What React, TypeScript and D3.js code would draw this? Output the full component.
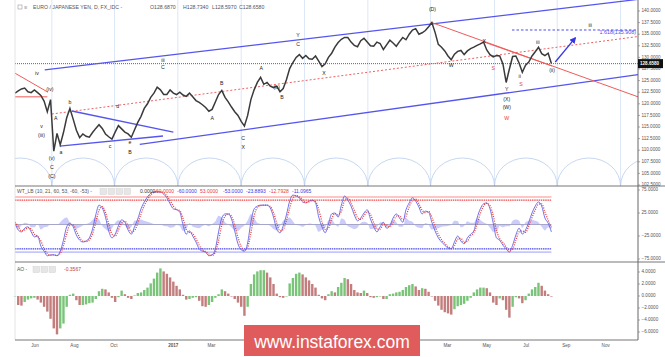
import React from "react";
import * as d3 from "d3";

const START = new Date(2016, 4, 1);
const STEP_DAYS = 5;

const closes = [
  122.3,122.8,123.2,123.4,122.6,122.4,123.0,122.4,121.8,120.6,
  118.3,120.9,109.8,113.6,111.2,113.8,117.0,119.0,116.7,114.3,
  112.7,113.5,113.0,112.8,113.8,114.7,115.5,114.7,113.5,112.9,
  112.4,113.9,115.3,114.6,113.9,113.5,112.8,114.4,116.0,117.3,
  119.0,120.0,121.4,122.3,123.6,123.0,122.0,122.0,123.0,122.3,
  122.0,122.5,121.9,121.6,122.3,121.5,120.7,120.3,119.8,119.2,
  118.4,118.8,120.4,122.0,122.9,121.4,120.4,119.3,118.3,117.5,
  116.2,115.2,117.5,120.9,123.0,124.6,125.7,124.2,124.6,123.8,
  123.5,123.8,122.6,123.3,125.2,127.6,128.9,130.0,130.6,129.8,
  130.4,129.7,129.6,130.3,129.2,128.0,128.6,130.0,130.9,132.2,
  133.2,133.9,134.3,134.3,133.3,132.6,132.3,133.6,134.1,133.3,
  132.5,132.4,133.3,133.0,131.7,132.7,133.7,133.1,132.4,133.4,
  134.3,133.8,135.0,135.9,136.2,135.0,135.3,135.8,136.6,137.5,
  135.4,132.8,132.2,131.4,130.3,129.5,130.7,131.3,131.5,130.6,
  131.4,131.9,132.2,132.6,132.9,133.3,131.6,130.6,130.1,130.4,
  130.3,128.6,124.6,127.5,130.2,130.3,128.8,126.8,128.3,129.0,
  130.3,131.2,132.2,130.8,130.4,130.9,128.7
];

const wt1 = [
  3,-12,-16,-8,-5,-16,-27,-25,-47,-58,
  -68,-66,-66,-68,-58,-34,-5,3,-5,-23,
  -34,-38,-36,-29,-10,21,42,36,16,-14,
  -29,-21,-3,10,5,-12,-21,-5,12,34,
  49,60,68,71,71,71,66,58,45,34,
  32,27,-1,-21,-14,-25,-38,-53,-58,-60,
  -68,-66,-53,-16,14,23,23,12,-14,-42,
  -55,-58,-40,5,34,40,42,42,42,36,
  16,-10,-18,-3,21,51,64,62,58,49,
  47,51,53,47,16,-5,-18,1,23,25,
  16,42,62,53,40,21,8,14,25,32,
  12,-5,-16,-5,5,-8,-3,14,23,14,
  5,32,47,58,51,38,23,29,27,5,
  -14,-29,-38,-45,-51,-53,-38,-25,-36,-42,
  -29,-21,-14,14,34,45,47,34,3,-29,
  -34,-45,-53,-60,-45,-23,-8,-21,-12,5,
  25,40,49,40,14,3,-16
];

const wt2 = [
  5,-4,-14,-12,-7,-10,-21,-26,-36,-52,
  -63,-67,-66,-67,-63,-46,-20,-1,-1,-14,
  -28,-36,-37,-33,-20,5,31,39,26,1,
  -21,-25,-12,3,7,-3,-16,-13,3,23,
  41,54,64,70,71,71,69,62,52,40,
  33,30,13,-11,-17,-20,-31,-45,-55,-59,
  -64,-67,-60,-35,-1,18,23,18,-1,-28,
  -48,-56,-49,-18,19,37,41,42,42,39,
  26,3,-14,-11,9,36,57,63,60,54,
  48,49,52,50,32,6,-11,-8,12,24,
  21,29,52,57,47,31,15,11,19,28,
  22,4,-10,-10,0,-1,-5,5,18,19,
  10,18,39,52,55,45,31,26,28,16,
  -4,-21,-33,-41,-48,-52,-46,-32,-30,-39,
  -36,-25,-18,0,24,40,46,41,19,-13,
  -31,-39,-49,-56,-53,-34,-16,-14,-17,-3,
  15,32,44,45,27,9,-6
];

const ao = [
  0,-1.5,-1.6,-1.0,-0.6,-0.4,-0.3,-0.6,-1.1,-1.8,
  -2.6,-3.8,-5.4,-6.4,-5.4,-4.6,-1.8,0.2,0.4,-0.7,
  -1.5,-1.5,-1.4,-1.2,-1.1,-0.5,0.8,1.2,1.1,0.6,
  -0.3,-1.0,-0.2,0.9,0.3,-0.3,-0.5,0.1,0.5,0.6,
  1.0,1.4,2.1,2.9,3.9,4.6,4.1,3.7,3.1,2.4,
  1.7,1.1,0.2,-0.6,-0.5,-0.3,-0.2,-0.8,-1.7,-1.8,
  -1.5,-1.0,-0.3,0.3,1.1,0.8,0.4,0.0,-0.5,-1.1,
  -1.8,-3.3,-1.8,2.0,3.6,4.1,4.3,4.3,3.9,3.1,
  2.0,0.4,-0.2,-0.3,0.0,2.1,3.0,3.7,3.9,3.6,
  3.1,2.6,2.0,1.4,0.2,-0.4,-0.7,0.3,0.8,0.6,
  1.5,2.2,3.0,2.8,2.0,1.0,0.6,0.5,0.9,0.5,
  -0.2,-0.3,-0.2,0.0,-0.5,-0.5,0.3,0.4,0.6,0.7,
  1.0,1.5,1.8,2.0,1.6,1.0,1.3,1.2,0.7,0.0,
  -0.8,-1.6,-2.3,-2.7,-2.9,-3.1,-2.2,-1.7,-1.5,-1.3,
  -0.8,-0.3,0.6,1.1,1.4,1.4,1.3,0.6,-1.1,-1.5,
  -0.4,-0.7,-2.3,-3.6,-1.8,-0.2,-0.4,-1.2,-0.7,0.4,
  1.1,1.5,2.2,1.7,0.9,0.3,-0.1
];

const priceTicks = [140, 137.5, 135, 132.5, 130, 127.5, 125, 122.5, 120, 117.5, 115, 112.5, 110, 107.5, 105, 102.5];
const wtTicks = [75, 25, -25, -75];
const aoTicks = [4, 2, 0, -2, -4, -6];
// month labels visible in the reference (the ones under the watermark are hidden there)
const timeTicks: [string, string][] = [
  ["2016-06-01", "Jun"], ["2016-08-01", "Aug"], ["2016-10-01", "Oct"], ["2017-01-01", "2017"],
  ["2017-03-01", "Mar"], ["2018-03-01", "Mar"], ["2018-05-01", "May"],
  ["2018-07-01", "Jul"], ["2018-09-01", "Sep"], ["2018-11-01", "Nov"]
];
const cycleDates = [
  "2016-03-21", "2016-06-27", "2016-10-02", "2017-01-08", "2017-04-16", "2017-07-23",
  "2017-10-29", "2018-02-03", "2018-05-13", "2018-08-18", "2018-11-24", "2019-03-01"
];

const lastPrice = 128.658;
const fibLevel = 135.908;

type P = [string, number];
const blueLines: [P, P][] = [
  [["2016-06-16", 127.3], ["2018-12-21", 142.5]],
  [["2016-11-10", 111.25], ["2018-12-21", 126.3]],
  [["2016-07-28", 118.45], ["2017-01-01", 113.9]],
  [["2016-07-09", 110.9], ["2016-12-16", 113.06]]
];
const redLines: [P, P][] = [
  [["2016-05-01", 126.6], ["2016-06-21", 122.5]],
  [["2016-05-01", 121.5], ["2016-06-20", 121.5]],
  [["2018-02-03", 137.6], ["2018-12-21", 121.5]],
  [["2018-04-27", 133.3], ["2018-08-10", 128.15]]
];
const redDotted: [P, P] = [["2016-06-27", 117.8], ["2018-12-21", 134.5]];
const fibLine: [string, string] = ["2018-06-09", "2018-12-21"];
const arrowLine: [P, P] = [["2018-08-15", 129.0], ["2018-09-15", 134.2]];

const labels: [string, number, string, string][] = [
  ["2016-06-04", 126.4, "iv", "#222"],
  ["2016-06-24", 122.97, "(iv)", "#222"],
  ["2016-06-11", 115.0, "v", "#222"],
  ["2016-06-11", 113.06, "(iii)", "#222"],
  ["2016-06-27", 108.1, "(v)", "#222"],
  ["2016-06-27", 106.16, "C", "#222"],
  ["2016-06-27", 104.2, "(C)", "#222"],
  ["2016-07-03", 116.7, "A", "#222"],
  ["2016-07-25", 120.2, "b", "#222"],
  ["2016-07-11", 109.4, "a", "#222"],
  ["2016-09-25", 110.7, "c", "#222"],
  ["2016-10-07", 119.3, "d", "#222"],
  ["2016-10-26", 111.55, "e", "#222"],
  ["2016-10-26", 109.4, "B", "#222"],
  ["2016-12-16", 127.7, "C", "#222"],
  ["2016-12-16", 129.4, "iii", "#222"],
  ["2017-03-02", 116.7, "A", "#222"],
  ["2017-03-17", 124.3, "B", "#222"],
  ["2017-04-19", 112.6, "C", "#222"],
  ["2017-04-19", 110.5, "X", "#222"],
  ["2017-05-17", 127.5, "A", "#222"],
  ["2017-06-10", 123.4, "(b)", "#222"],
  ["2017-06-18", 121.25, "B", "#222"],
  ["2017-07-13", 134.6, "Y", "#222"],
  ["2017-07-13", 132.7, "C", "#222"],
  ["2017-08-22", 126.6, "X", "#222"],
  ["2018-02-06", 140.2, "(D)", "#222"],
  ["2018-03-07", 128.15, "W", "#222"],
  ["2018-04-27", 133.5, "X", "#222"],
  ["2018-05-11", 127.5, "S", "#e83a3a"],
  ["2018-06-01", 123.0, "Y", "#222"],
  ["2018-06-01", 121.0, "(X)", "#222"],
  ["2018-06-01", 119.1, "(W)", "#222"],
  ["2018-06-01", 116.9, "W", "#e83a3a"],
  ["2018-06-21", 125.8, "ii", "#222"],
  ["2018-06-23", 124.05, "S", "#e83a3a"],
  ["2018-07-19", 133.1, "iii", "#222"],
  ["2018-08-10", 127.1, "(ii)", "#222"],
  ["2018-10-08", 136.8, "iii", "#222"]
];

const FONT = "'Liberation Sans', Arial, sans-serif";

export default function App() {
  const parse = (s: string) => d3.timeParse("%Y-%m-%d")(s) as Date;
  const x = d3.scaleTime().domain([new Date(2016, 4, 1), new Date(2018, 11, 21)]).range([15, 638]);
  const yP = d3.scaleLinear().domain([102.5, 140]).range([185, 11]);
  const yW = d3.scaleLinear().domain([-75, 75]).range([259, 190]);
  const yA = d3.scaleLinear().domain([-6, 4]).range([332, 272]);
  const dateAt = (i: number) => d3.timeDay.offset(START, STEP_DAYS * i);
  const xi = (i: number) => x(dateAt(i));

  const priceLine = d3.line<number>().x((_, i) => xi(i)).y((v) => yP(v))(closes) || "";
  const wt1Line = d3.line<number>().x((_, i) => xi(i)).y((v) => yW(v)).curve(d3.curveMonotoneX)(wt1) || "";
  const wt2Line = d3.line<number>().x((_, i) => xi(i)).y((v) => yW(v)).curve(d3.curveMonotoneX)(wt2) || "";
  const wtArea = d3.area<number>().x((_, i) => xi(i)).y0(yW(0)).y1((v, i) => yW(v - wt2[i])).curve(d3.curveMonotoneX)(wt1) || "";
  const lastX = xi(closes.length - 1);
  const fmt = d3.format(".4f");

  const seg = (a: P, b: P) => ({ x1: x(parse(a[0])), y1: yP(a[1]), x2: x(parse(b[0])), y2: yP(b[1]) });
  const cycX = cycleDates.map((d) => x(parse(d)));
  const baseY = 186;

  const axisText = { fontFamily: FONT, fontSize: 4.6, fill: "#555" } as const;

  return (
    <svg width={665} height={357} style={{ position: "absolute", left: 0, top: 0, background: "#fff" }} fontFamily={FONT}>
      <defs>
        <clipPath id="main"><rect x={15} y={0} width={623} height={186} /></clipPath>
        <clipPath id="wt"><rect x={15} y={186} width={623} height={76} /></clipPath>
        <marker id="arr" viewBox="0 0 10 10" refX={8} refY={5} markerWidth={5} markerHeight={5} orient="auto">
          <path d="M0,0 L10,5 L0,10 z" fill="#3535e8" />
        </marker>
      </defs>
      <rect x={0} y={0} width={665} height={357} fill="#fff" />

      {/* main panel */}
      <g clipPath="url(#main)">
        {cycX.slice(1, -1).map((cx, i) => (
          <line key={"cv" + i} x1={cx} x2={cx} y1={0} y2={186} stroke="#d3e1f5" strokeWidth={0.8} />
        ))}
        {cycX.slice(0, -1).map((cx, i) => {
          const nx = cycX[i + 1];
          const rx = (nx - cx) / 2;
          return <path key={"arc" + i} d={`M${cx},${baseY} A${rx},28 0 0 1 ${nx},${baseY}`} fill="none" stroke="#b9cdee" strokeWidth={0.8} />;
        })}
        <line x1={15} x2={638} y1={yP(lastPrice)} y2={yP(lastPrice)} stroke="#555" strokeWidth={0.9} strokeDasharray="1,1" />
        {(() => { const s = seg(redDotted[0], redDotted[1]); return <line {...s} stroke="#f06060" strokeWidth={1} strokeDasharray="2,2" />; })()}
        {blueLines.map((l, i) => <line key={"bl" + i} {...seg(l[0], l[1])} stroke="#5555ee" strokeWidth={1.3} />)}
        {redLines.map((l, i) => <line key={"rl" + i} {...seg(l[0], l[1])} stroke="#f05a5a" strokeWidth={1} />)}
        <line x1={x(parse(fibLine[0]))} x2={x(parse(fibLine[1]))} y1={yP(fibLevel)} y2={yP(fibLevel)} stroke="#4a4af0" strokeWidth={1} strokeDasharray="2.5,2" />
        <text x={636} y={yP(fibLevel) + 4} textAnchor="end" fontSize={5.4} fill="#4a4af0">1.618({fibLevel.toFixed(3)})</text>
        <path d={priceLine} fill="none" stroke="#3a3a3a" strokeWidth={1.5} strokeLinejoin="miter" />
        {(() => { const s = seg(arrowLine[0], arrowLine[1]); return <line {...s} stroke="#3535e8" strokeWidth={1.3} markerEnd="url(#arr)" />; })()}
        {labels.map((l, i) => (
          <text key={"lb" + i} x={x(parse(l[0]))} y={yP(l[1])} fontSize={5.2} fill={l[3]} textAnchor="middle" dominantBaseline="middle">{l[2]}</text>
        ))}
      </g>
      <rect x={18} y={5} width={4} height={4} fill="none" stroke="#999" strokeWidth={0.6} />
      <text x={24} y={9} fontSize={5.4} fill="#999">≡</text>
      <text x={33} y={9} fontSize={5.2} fill="#555">EURO / JAPANESE YEN, D, FX_IDC -</text>
      <text x={150} y={9} fontSize={5.2} fill="#555">O128.6870</text>
      <text x={183} y={9} fontSize={5.2} fill="#555">H128.7340</text>
      <text x={212} y={9} fontSize={5.2} fill="#555">L128.5970</text>
      <text x={239} y={9} fontSize={5.2} fill="#555">C128.6580</text>

      {/* WT panel */}
      <g clipPath="url(#wt)">
        <line x1={15} x2={lastX} y1={yW(60)} y2={yW(60)} stroke="rgba(255,90,90,0.35)" strokeWidth={2} />
        <line x1={15} x2={lastX} y1={yW(53)} y2={yW(53)} stroke="#f04848" strokeWidth={1.1} strokeDasharray="1.5,0.7" />
        <line x1={15} x2={lastX} y1={yW(-53)} y2={yW(-53)} stroke="#4848f0" strokeWidth={1.1} strokeDasharray="1.5,0.7" />
        <line x1={15} x2={lastX} y1={yW(-60)} y2={yW(-60)} stroke="rgba(90,90,255,0.35)" strokeWidth={1.6} />
        <path d={wtArea} fill="rgba(110,110,240,0.35)" stroke="none" />
        <line x1={15} x2={lastX} y1={yW(0)} y2={yW(0)} stroke="#a6a6c8" strokeWidth={1} />
        <path d={wt1Line} fill="none" stroke="#5a5ae8" strokeWidth={1} opacity={0.85} />
        <path d={wt2Line} fill="none" stroke="#e83c3c" strokeWidth={1.3} strokeDasharray="1,1.3" />
      </g>
      <text x={17} y={193} fontSize={5} fill="#555">WT_LB (10, 21, 60, 53, -60, -53) -</text>
      {[0, 1, 2, 3].map((k) => <rect key={"wb" + k} x={100 + k * 8} y={188.5} width={6.5} height={6} fill="#e6e6e6" stroke="#ccc" strokeWidth={0.4} />)}
      <text x={140} y={193} fontSize={5} fill="#333">0.0000</text>
      <text x={156} y={193} fontSize={5} fill="#e83a3a">60.0000</text>
      <text x={177} y={193} fontSize={5} fill="#3a3ae8">-60.0000</text>
      <text x={200} y={193} fontSize={5} fill="#e83a3a">53.0000</text>
      <text x={223} y={193} fontSize={5} fill="#3a3ae8">-53.0000</text>
      <text x={246} y={193} fontSize={5} fill="#3a3ae8">-23.8893</text>
      <text x={269} y={193} fontSize={5} fill="#e83a3a">-12.7928</text>
      <text x={292} y={193} fontSize={5} fill="#3a3ae8">-11.0965</text>

      {/* AO panel */}
      {ao.map((v, i) => {
        const up = i === 0 || v >= ao[i - 1];
        const y0 = yA(0), y1 = yA(v);
        return (
          <rect key={"ao" + i} x={xi(i) - 1.2} width={2.4} y={Math.min(y0, y1)} height={Math.max(0.5, Math.abs(y1 - y0))}
            fill={up ? "#62ba62" : "#b96666"} opacity={0.85} />
        );
      })}
      <text x={17} y={271} fontSize={5} fill="#555">AO -</text>
      {[0, 1, 2].map((k) => <rect key={"ab" + k} x={33 + k * 8} y={266.5} width={6.5} height={6} fill="#e6e6e6" stroke="#ccc" strokeWidth={0.4} />)}
      <text x={64} y={271} fontSize={5} fill="#c83a3a">-0.3567</text>

      {/* frames */}
      <line x1={15} x2={15} y1={0} y2={340} stroke="#ddd" strokeWidth={0.8} />
      <line x1={638} x2={638} y1={0} y2={340} stroke="#555" strokeWidth={0.9} />
      <line x1={15} x2={665} y1={186} y2={186} stroke="#666" strokeWidth={0.9} />
      <line x1={15} x2={665} y1={262} y2={262} stroke="#666" strokeWidth={0.9} />
      <line x1={15} x2={638} y1={340} y2={340} stroke="#666" strokeWidth={0.9} />

      {/* right axes */}
      {priceTicks.map((t) => (
        <g key={"pt" + t}>
          <line x1={638} x2={640} y1={yP(t)} y2={yP(t)} stroke="#777" strokeWidth={0.6} />
          <text x={641.5} y={yP(t)} dominantBaseline="middle" {...axisText}>{fmt(t)}</text>
        </g>
      ))}
      <rect x={638} y={yP(lastPrice) - 4.5} width={25} height={9} fill="#111" />
      <text x={640} y={yP(lastPrice)} dominantBaseline="middle" fontSize={4.6} fill="#fff" fontWeight="bold">{fmt(lastPrice)}</text>
      {wtTicks.map((t) => (
        <g key={"wt" + t}>
          <line x1={638} x2={640} y1={yW(t)} y2={yW(t)} stroke="#777" strokeWidth={0.6} />
          <text x={641.5} y={yW(t)} dominantBaseline="middle" {...axisText}>{fmt(t)}</text>
        </g>
      ))}
      {aoTicks.map((t) => (
        <g key={"at" + t}>
          <line x1={638} x2={640} y1={yA(t)} y2={yA(t)} stroke="#777" strokeWidth={0.6} />
          <text x={641.5} y={yA(t)} dominantBaseline="middle" {...axisText}>{fmt(t)}</text>
        </g>
      ))}

      {/* time axis */}
      {timeTicks.map(([d, l]) => (
        <text key={"tt" + d} x={x(parse(d))} y={347} textAnchor="middle" {...axisText} fontWeight={l.length === 4 ? "bold" : "normal"}>{l}</text>
      ))}

      {/* watermark */}
      <rect x={244} y={325} width={176} height={31} fill="#e05c5c" />
      <text x={332} y={348} textAnchor="middle" fontSize={17.5} fill="#fff" fontFamily={FONT}>www.instaforex.com</text>
    </svg>
  );
}
